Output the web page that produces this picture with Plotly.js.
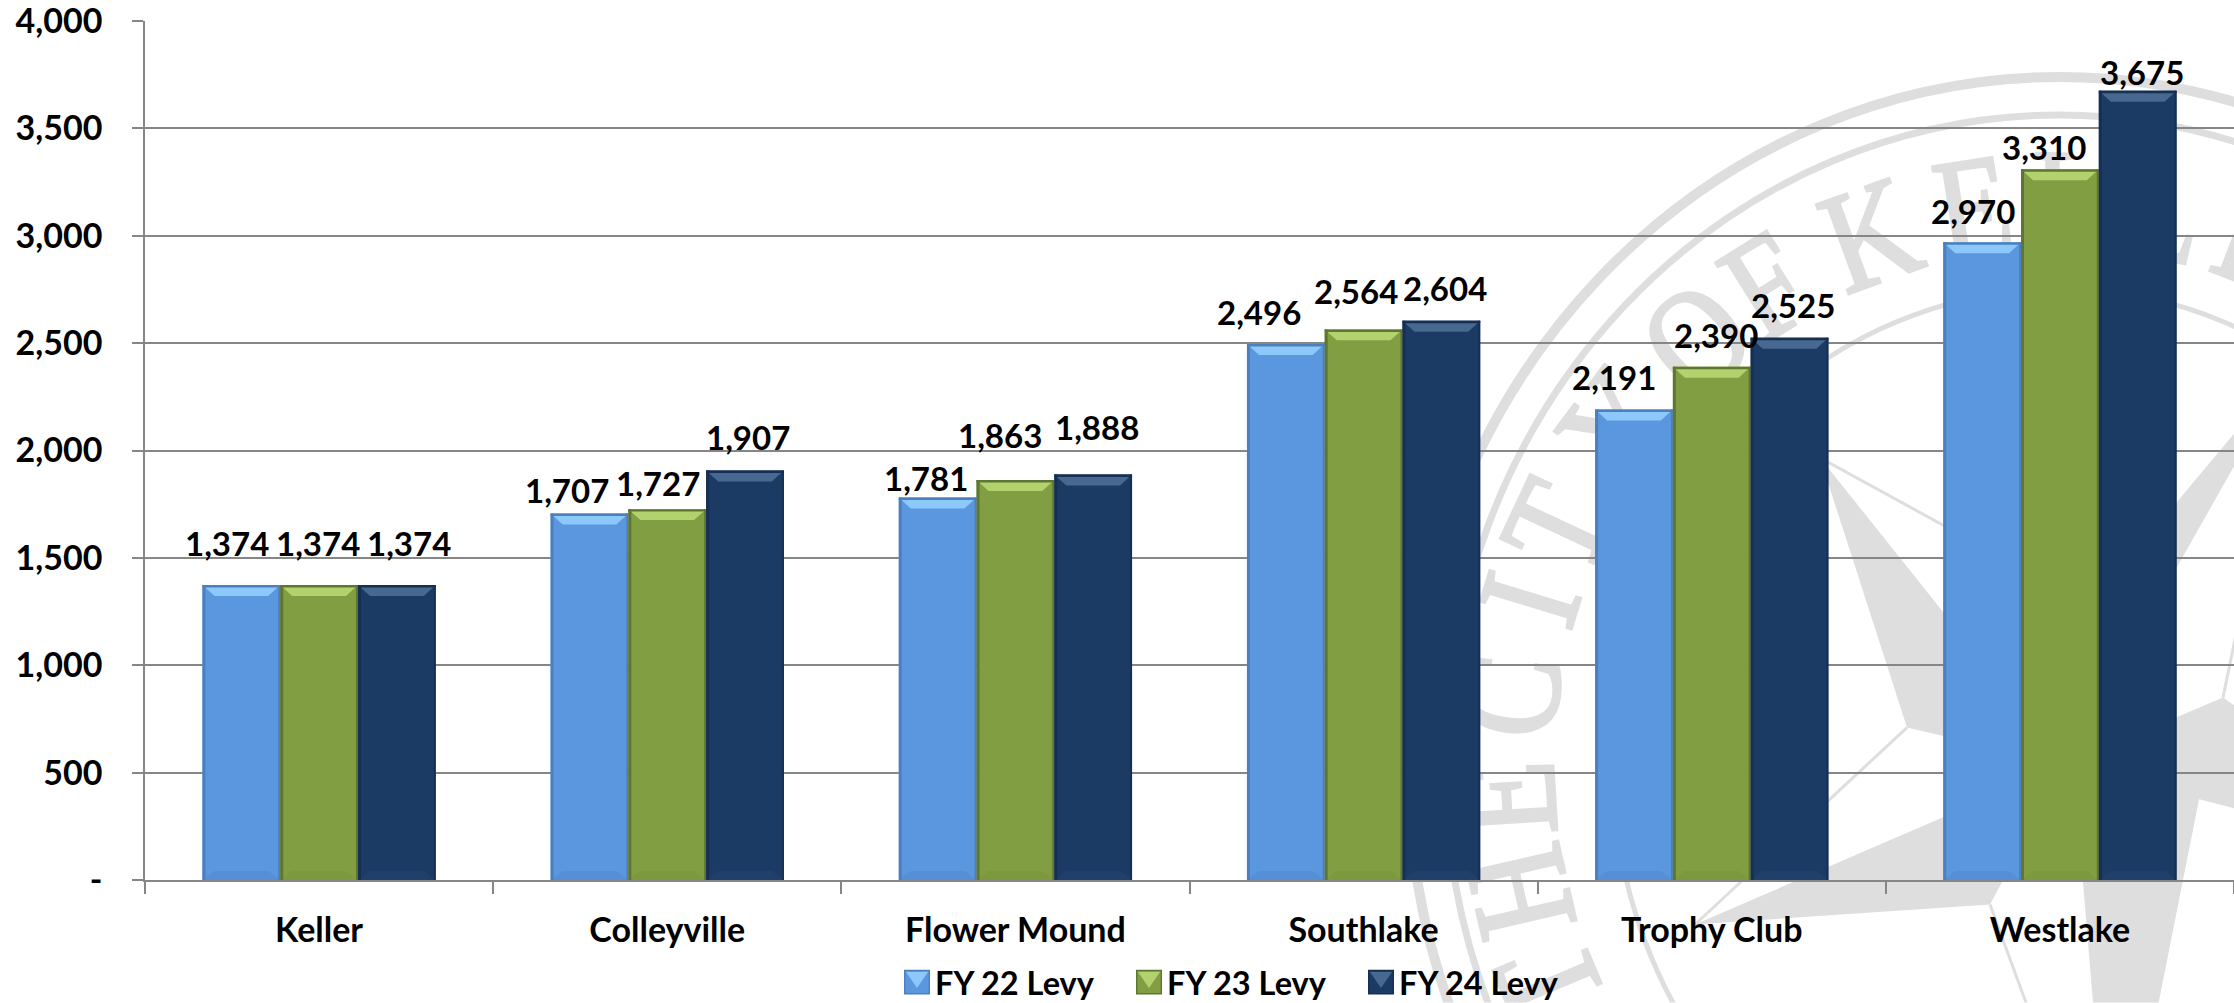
<!DOCTYPE html>
<html>
<head>
<meta charset="utf-8">
<script src="https://cdn.plot.ly/plotly-3.0.1.min.js"></script>
<style>html,body{margin:0;padding:0;background:#fff;}#chart{width:2234px;height:1003px;}</style>
</head>
<body>
<div id="chart"></div>
<script>
// ---- chart values ----
const categories = ["Keller", "Colleyville", "Flower Mound", "Southlake", "Trophy Club", "Westlake"];
const seriesNames = ["FY 22 Levy", "FY 23 Levy", "FY 24 Levy"];
const fy22 = [1374, 1707, 1781, 2496, 2191, 2970];
const fy23 = [1374, 1727, 1863, 2564, 2390, 3310];
const fy24 = [1374, 1907, 1888, 2604, 2525, 3675];
const yTickVals = [0, 500, 1000, 1500, 2000, 2500, 3000, 3500, 4000];
const yTickText = ["-", "500", "1,000", "1,500", "2,000", "2,500", "3,000", "3,500", "4,000"];

// ---- styling (not data) ----
const W = 2234, H = 1003, L = 145, T = 21, B = 122.5;
const plotW = W - L, plotH = H - T - B;
const FAMILY = "Lato, 'Open Sans', sans-serif";
const FONT = {family: FAMILY, size: 33, color: "#000", weight: 700};
const AXISFONT = {family: FAMILY, size: 34, color: "#000", weight: 700};
const LEGENDFONT = {family: FAMILY, size: 32.5, color: "#000", weight: 700};
const faces = ["#5B97DF", "#829E43", "#1C3B64"];
const tops = ["#8CC8FA", "#B2D26E", "#47688F"];
const bottoms = ["#568FD6", "#7D983F", "#213F6A"];
const edges = ["#4C80BC", "#5F7633", "#162F52"];
const GRID = "#868686", SEAL = "#DEDEDE";
const BARGAP = 0.33, BARW = (1 - BARGAP) / 3;
// label nudges in pixels from the top-centre of each bar [dx, dy up]
const nudges = [
  [[-14,42],[-1,42],[12,42]],
  [[-22,23],[-9,26],[3,33]],
  [[-12,20],[-15,45],[4,48]],
  [[-27,32],[-8,38],[4,33]],
  [[-20,32],[4,32],[3,33]],
  [[-9,31],[-16,22],[4,19]]
];
const series = [fy22, fy23, fy24];

// ---- watermark seal, painted behind the plot ----
function sealSvg() {
  const cx = 2065, cy = 765;
  const c = cx + "," + cy;
  const wedges = [
    "1820,458 1907,728 " + c,
    "1695,925 1990,905 " + c,
    c + " 2083,883 2093,1003 2112,1238 2200,795",
    "2470,870 2223,698 " + c,
    "2291,366 2090,606 " + c
  ];
  const thin = [
    "1820,458 2090,606", "1695,925 1907,728", "2112,1238 1990,905",
    "2470,870 2200,795", "2291,366 2223,698"
  ];
  const letters = [["T",-113],["H",-103],["E",-93.5],["C",-83],["I",-73],["T",-65],["Y",-53],
    ["O",-41],["F",-32],["K",-20],["E",-9],["L",1],["L",11],["E",21],["R",31]];
  let s = '<svg xmlns="http://www.w3.org/2000/svg" width="'+W+'" height="'+H+'" viewBox="0 0 '+W+' '+H+'">';
  s += '<g fill="none" stroke="'+SEAL+'">';
  s += '<ellipse cx="2060" cy="765" rx="652" ry="688" stroke-width="10"/>';
  s += '<ellipse cx="2060" cy="765" rx="615" ry="650" stroke-width="7"/>';
  s += '<ellipse cx="2060" cy="765" rx="447" ry="476" stroke-width="5"/>';
  s += '</g>';
  wedges.forEach(p => { s += '<polygon fill="'+SEAL+'" points="'+p+'"/>'; });
  thin.forEach(p => { s += '<polyline fill="none" stroke="'+SEAL+'" stroke-width="3" points="'+p+'"/>'; });
  letters.forEach(([ch, a]) => {
    const r = a * Math.PI / 180;
    const x = 2060 + 555 * Math.sin(r), y = 765 - 565 * Math.cos(r);
    s += '<text x="0" y="0" text-anchor="middle" dominant-baseline="central" fill="'+SEAL+'" ' +
         'stroke="'+SEAL+'" stroke-width="3" font-family="Liberation Serif" font-size="122" ' +
         'transform="translate('+x.toFixed(1)+','+y.toFixed(1)+') rotate('+a+') scale(1,1.18)">'+ch+'</text>';
  });
  s += '</svg>';
  return "data:image/svg+xml;charset=utf-8," + encodeURIComponent(s);
}

// ---- bevel shapes, derived from the same values ----
const pxX = 1 / (plotW / 6);           // category units per pixel
const pxY = 4000 / plotH;              // value units per pixel
const shapes = [];
series.forEach((vals, j) => {
  vals.forEach((v, i) => {
    const x0 = i + (j - 1.5) * BARW, x1 = x0 + BARW;
    const inX = 12 * pxX, topH = 11 * pxY, botH = 9 * pxY;
    const poly = (pts, fill) => shapes.push({
      type: "path", xref: "x", yref: "y", layer: "above",
      path: "M" + pts.map(p => p[0].toFixed(4) + "," + p[1].toFixed(2)).join("L") + "Z",
      fillcolor: fill, line: {width: 0}
    });
    poly([[x0, v], [x1, v], [x1 - inX, v - topH], [x0 + inX, v - topH]], tops[j]);
    poly([[x0, 0], [x1, 0], [x1 - inX, botH], [x0 + inX, botH]], bottoms[j]);
    poly([[x0, 0], [x0 + 3 * pxX, 0], [x0 + 3 * pxX, v], [x0, v]], edges[j]);
    poly([[x1 - 2 * pxX, 0], [x1, 0], [x1, v], [x1 - 2 * pxX, v]], edges[j]);
    poly([[x0, v - 2.5 * pxY], [x1, v - 2.5 * pxY], [x1, v], [x0, v]], edges[j]);
  });
});

const annotations = [];
series.forEach((vals, j) => {
  vals.forEach((v, i) => {
    annotations.push({
      x: i + (j - 1) * BARW, y: v, xref: "x", yref: "y",
      text: v.toLocaleString("en-US"), showarrow: false,
      xanchor: "center", yanchor: "middle",
      xshift: nudges[i][j][0], yshift: nudges[i][j][1],
      font: FONT
    });
  });
});

const traces = series.map((vals, j) => ({
  type: "bar", name: seriesNames[j], x: categories, y: vals,
  marker: {color: faces[j], line: {width: 0}}, hoverinfo: "x+y"
}));

const layout = {
  width: W, height: H,
  margin: {l: L, r: 0, t: T, b: B, pad: 0, autoexpand: false},
  paper_bgcolor: "rgba(0,0,0,0)", plot_bgcolor: "rgba(0,0,0,0)",
  barmode: "group", bargap: BARGAP, bargroupgap: 0,
  font: FONT,
  xaxis: {
    type: "category", range: [-0.5, 5.5], tickson: "boundaries",
    ticks: "outside", ticklen: 12, tickwidth: 1.5, tickcolor: GRID,
    showline: true, linecolor: GRID, linewidth: 1.5, showgrid: false, zeroline: false,
    tickfont: AXISFONT, ticklabelstandoff: 19, automargin: false, fixedrange: true
  },
  yaxis: {
    range: [0, 4000], tickmode: "array", tickvals: yTickVals, ticktext: yTickText,
    ticks: "outside", ticklen: 11, tickwidth: 1.5, tickcolor: GRID,
    showline: true, linecolor: GRID, linewidth: 1.5,
    showgrid: true, gridcolor: GRID, gridwidth: 1.5, zeroline: false,
    tickfont: AXISFONT, ticklabelstandoff: 23, ticklabeloverflow: "allow",
    automargin: false, fixedrange: true
  },
  showlegend: true,
  legend: {
    orientation: "h", xref: "paper", yref: "paper",
    x: (895 - L) / plotW, xanchor: "left", y: -(955 - (H - B)) / plotH, yanchor: "top",
    font: LEGENDFONT, bgcolor: "rgba(0,0,0,0)", borderwidth: 0,
    itemwidth: 30, entrywidth: 187, entrywidthmode: "pixels", traceorder: "normal",
    itemclick: false, itemdoubleclick: false
  },
  images: [{
    source: sealSvg(), xref: "paper", yref: "paper", layer: "below",
    x: -L / plotW, y: 1 + T / plotH, sizex: W / plotW, sizey: H / plotH,
    xanchor: "left", yanchor: "top", sizing: "stretch"
  }],
  shapes: shapes,
  annotations: annotations
};

Plotly.newPlot("chart", traces, layout, {displayModeBar: false}).then(() => {
  // enlarge the legend swatches and give them the bevel of the bars
  document.querySelectorAll(".legend .traces").forEach((tr, j) => {
    const path = tr.querySelector(".legendpoints path");
    if (!path) return;
    path.setAttribute("transform", "translate(22,0) scale(2.05,1.95)");
    path.style.stroke = edges[j];
    path.style.strokeWidth = "0.7px";
    const tri = document.createElementNS("http://www.w3.org/2000/svg", "path");
    tri.setAttribute("d", "M-11,-10H11L0,6Z");
    tri.setAttribute("transform", "translate(22,0)");
    tri.style.fill = tops[j];
    path.parentNode.appendChild(tri);
  });
});
</script>
</body>
</html>
